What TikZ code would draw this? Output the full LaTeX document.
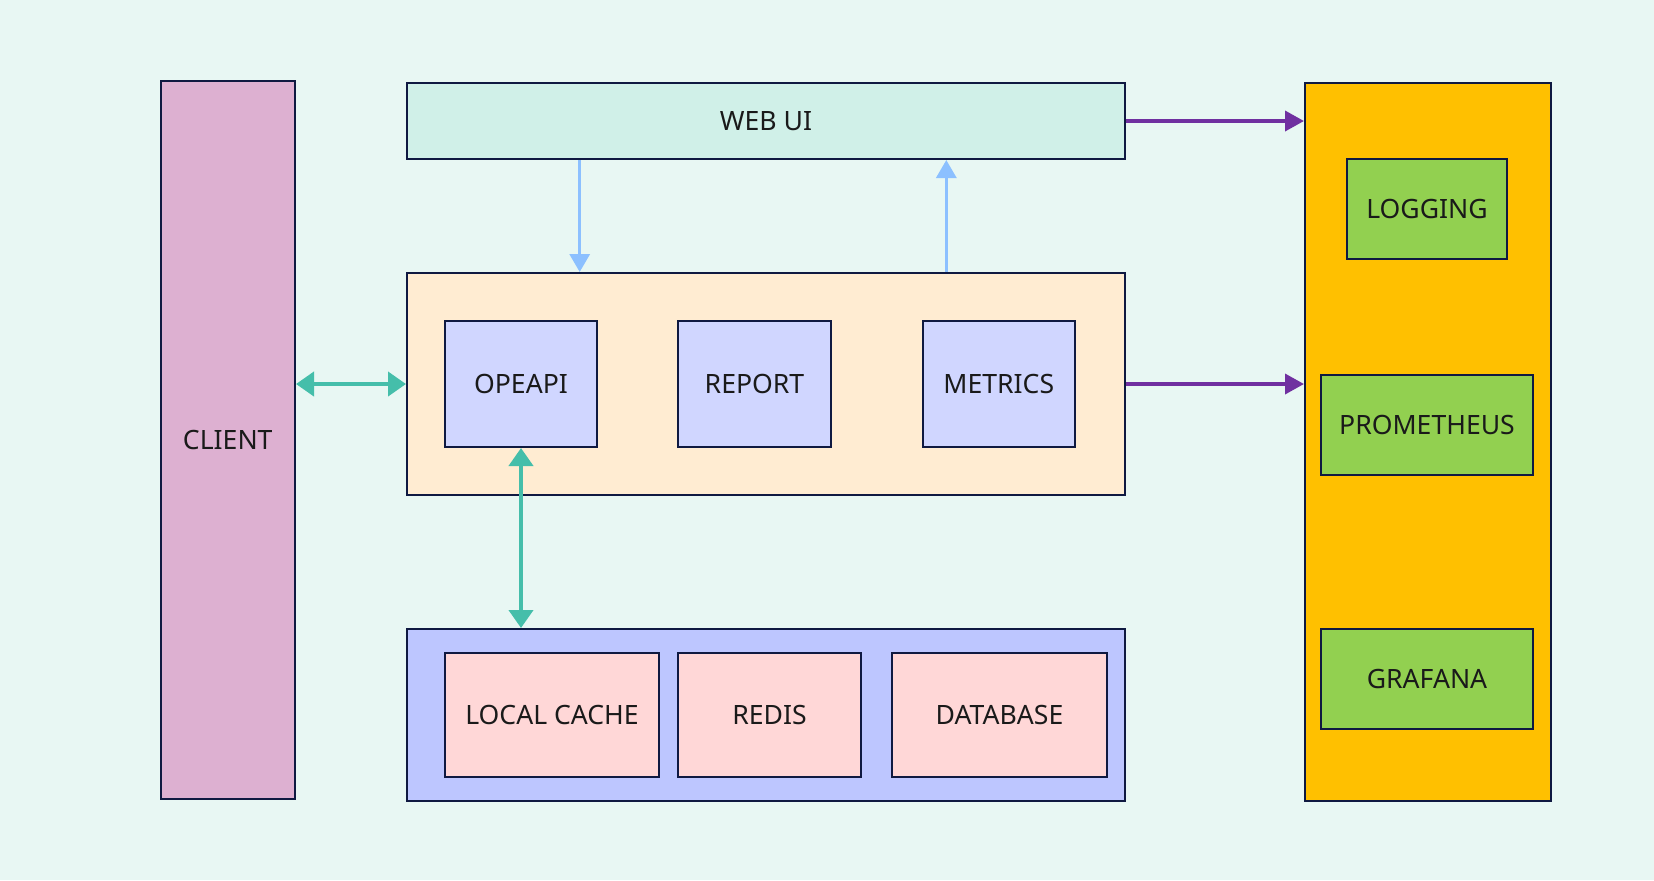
\documentclass[tikz,border=0pt]{standalone}
\usepackage{fontspec}
\setmainfont{Noto Sans}
\usetikzlibrary{arrows.meta}
\definecolor{bgc}{HTML}{E8F7F3}
\definecolor{clientc}{HTML}{DDB0D1}
\definecolor{webc}{HTML}{D0F0E8}
\definecolor{svcc}{HTML}{FFECD2}
\definecolor{innerc}{HTML}{D0D6FF}
\definecolor{storec}{HTML}{BDC6FF}
\definecolor{pinkc}{HTML}{FFD7D7}
\definecolor{monc}{HTML}{FFC000}
\definecolor{greenc}{HTML}{92D050}
\definecolor{borderc}{HTML}{0F1941}
\definecolor{bluec}{HTML}{8CC0FF}
\definecolor{tealc}{HTML}{45BEAA}
\definecolor{purplec}{HTML}{7030A0}
\definecolor{textc}{HTML}{1A1A1A}
\begin{document}
\begin{tikzpicture}[x=0.5pt,y=-0.5pt,
  box/.style={draw=borderc, line width=1pt, rectangle, inner sep=0pt, text=textc,
    font=\fontsize{13.3}{16}\selectfont},
  bluearr/.style={draw=bluec, line width=1.6pt, -{Triangle[length=9pt,width=10pt]}},
  tealarr/.style={draw=tealc, line width=2pt, {Triangle[length=9pt,width=12pt]}-{Triangle[length=9pt,width=12pt]}},
  purparr/.style={draw=purplec, line width=1.8pt, -{Triangle[length=9.5pt,width=10pt]}}]
\useasboundingbox (0,0) rectangle (1654,880);
\fill[bgc] (0,0) rectangle (1654,880);
% containers
\node[box, fill=clientc, minimum width=67.25pt, minimum height=359pt] (client) at (227.75,440) {CLIENT};
\node[box, fill=webc, minimum width=359pt, minimum height=38pt] (webui) at (766,121) {WEB UI};
\node[box, fill=svcc, minimum width=359pt, minimum height=111pt] (svc) at (766,384) {};
\node[box, fill=storec, minimum width=359pt, minimum height=86pt] (store) at (766,715) {};
\node[box, fill=monc, minimum width=123pt, minimum height=359pt] (mon) at (1428,442) {};
% service items
\node[box, fill=innerc, minimum width=76pt, minimum height=63pt] (opeapi) at (521,384) {OPEAPI};
\node[box, fill=innerc, minimum width=76.5pt, minimum height=63pt] (report) at (754.5,384) {REPORT};
\node[box, fill=innerc, minimum width=76.25pt, minimum height=63pt] (metrics) at (998.75,384) {METRICS};
% storage items
\node[box, fill=pinkc, minimum width=107pt, minimum height=62pt] (lcache) at (552,715) {LOCAL CACHE};
\node[box, fill=pinkc, minimum width=91.5pt, minimum height=62pt] (redis) at (769.5,715) {REDIS};
\node[box, fill=pinkc, minimum width=107.5pt, minimum height=62pt] (database) at (999.5,715) {DATABASE};
% monitoring items
\node[box, fill=greenc, minimum width=80pt, minimum height=50pt] (logging) at (1427,209) {LOGGING};
\node[box, fill=greenc, minimum width=106pt, minimum height=50pt] (prom) at (1427,425) {PROMETHEUS};
\node[box, fill=greenc, minimum width=106pt, minimum height=50pt] (grafana) at (1427,679) {GRAFANA};
% connectors
\draw[bluearr] ([xshift=86.85pt]webui.south west) -- ([xshift=86.85pt]svc.north west);
\draw[bluearr] ([xshift=270.15pt]svc.north west) -- ([xshift=270.15pt]webui.south west);
\draw[purparr] (webui.east) -- (mon.west |- webui.east);
\draw[purparr] (svc.east) -- (mon.west |- svc.east);
\draw[tealarr] (client.east |- svc.west) -- (svc.west);
\draw[tealarr] (opeapi.south) -- (store.north -| opeapi.south);
\end{tikzpicture}
\end{document}
